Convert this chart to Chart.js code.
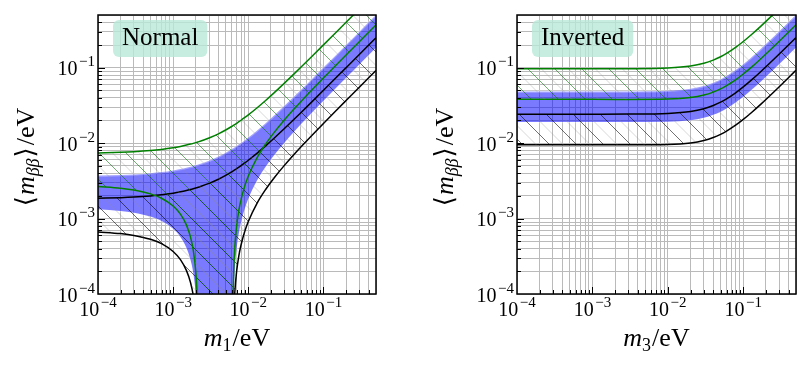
<!DOCTYPE html>
<html lang="en">
<head>
<meta charset="UTF-8">
<title>Effective Majorana mass - normal / inverted</title>
<script src="https://cdn.jsdelivr.net/npm/chart.js@4"></script>
<style>
  body { margin: 0; background: #fff; }
  #wrap { position: relative; width: 811px; height: 368px; }
  canvas { position: absolute; top: 0; }
  #left { left: 0; }
  #right { left: 405px; }
</style>
</head>
<body>
<div id="wrap">
  <canvas id="left" width="405" height="368"></canvas>
  <canvas id="right" width="406" height="368"></canvas>
</div>
<script>
// ---- axes ----
var tickExps = [-4, -3, -2, -1];
var axisMin = 1e-4, axisMax = 0.5;

// ---- normal ordering, x = m1 (eV) ----
var normalX = [1e-4, 2e-4, 3e-4, 5e-4, 7e-4, 1e-3, 1.25e-3, 1.5e-3, 1.7e-3, 1.85e-3,
  2e-3, 2.05e-3, 2.1e-3, 2.13e-3, 2.15e-3, 2.16e-3, 3e-3, 4e-3, 5e-3, 6e-3,
  6.19e-3, 6.25e-3, 6.3e-3, 6.4e-3, 6.6e-3, 7e-3, 7.5e-3, 8e-3, 9e-3, 1e-2,
  1.3e-2, 1.7e-2, 2.2e-2, 3e-2, 4e-2, 5e-2, 7e-2, 0.1, 0.15, 0.2, 0.3, 0.5];
var normalBlueHi = [0.003714, 0.003783, 0.003852, 0.003992, 0.004133, 0.004347, 0.004527, 0.004710, 0.004858, 0.004970,
  0.005082, 0.005120, 0.005157, 0.005180, 0.005195, 0.005203, 0.005849, 0.006645, 0.007468, 0.008312,
  0.008475, 0.008526, 0.008569, 0.008656, 0.008828, 0.009176, 0.009614, 0.010056, 0.010950, 0.011856,
  0.014627, 0.018406, 0.023209, 0.030991, 0.040808, 0.050682, 0.070514, 0.10037, 0.15026, 0.20019, 0.30013, 0.50008];
var normalBlueLo = [0.0013325, 0.0012645, 0.0011969, 0.0010627, 0.0009299, 0.0007331, 0.0005714, 0.0004118, 0.0002855, 0.0001916,
  0.0000985, 0.0000675, 0.0000367, 0.0000183, 0.0000060, 1e-7, 1e-7, 1e-7, 1e-7, 1e-7,
  1e-7, 0.0000276, 0.0000531, 0.0001036, 0.0002048, 0.0004044, 0.0006506, 0.0008929, 0.0013674, 0.001830,
  0.003165, 0.004860, 0.006901, 0.010069, 0.013938, 0.017751, 0.025290, 0.036491, 0.055043, 0.073532, 0.11047, 0.18424];
var normalBlackHi = [0.001857, 0.001892, 0.001926, 0.001996, 0.002067, 0.002174, 0.002264, 0.002355, 0.002429, 0.002485,
  0.002541, 0.002560, 0.002579, 0.002590, 0.002598, 0.002602, 0.002925, 0.003323, 0.003734, 0.004156,
  0.004238, 0.004263, 0.004285, 0.004328, 0.004414, 0.004588, 0.004807, 0.005028, 0.005475, 0.005928,
  0.007314, 0.009203, 0.011605, 0.015496, 0.020404, 0.025341, 0.035257, 0.05019, 0.07513, 0.10010, 0.15007, 0.25004];
var normalBlackLo = [0.0006663, 0.0006323, 0.0005985, 0.0005314, 0.0004650, 0.0003666, 0.0002857, 0.0002059, 0.0001428, 0.0000958,
  0.00004925, 0.00003375, 0.00001835, 0.00000915, 0.0000030, 1e-7, 1e-7, 1e-7, 1e-7, 1e-7,
  1e-7, 0.0000138, 0.00002655, 0.0000518, 0.0001024, 0.0002022, 0.0003253, 0.0004465, 0.0006837, 0.0009151,
  0.0015825, 0.0024301, 0.0034507, 0.0050345, 0.006969, 0.008876, 0.012645, 0.018246, 0.027522, 0.036766, 0.055235, 0.09212];
var normalGreenHi = [0.007427, 0.007565, 0.007704, 0.007983, 0.008265, 0.008693, 0.009055, 0.009420, 0.009716, 0.009939,
  0.010164, 0.010239, 0.010315, 0.010360, 0.010390, 0.010405, 0.011698, 0.013291, 0.014935, 0.016624,
  0.016950, 0.017053, 0.017139, 0.017311, 0.017656, 0.018352, 0.019228, 0.020112, 0.021900, 0.023712,
  0.029254, 0.036812, 0.046418, 0.061982, 0.081616, 0.10136, 0.14103, 0.20074, 0.30052, 0.40038, 0.60026, 1.00016];
var normalGreenLo = [0.002665, 0.002529, 0.002394, 0.002125, 0.001860, 0.001466, 0.001143, 0.000824, 0.000571, 0.000383,
  0.000197, 0.000135, 0.0000734, 0.0000366, 0.000012, 1e-7, 1e-7, 1e-7, 1e-7, 1e-7,
  1e-7, 0.0000552, 0.0001062, 0.0002072, 0.0004096, 0.0008088, 0.0013012, 0.0017858, 0.0027348, 0.003660,
  0.006330, 0.009720, 0.013803, 0.020138, 0.027876, 0.035502, 0.050580, 0.072982, 0.11009, 0.14706, 0.22094, 0.36848];

// ---- inverted ordering, x = m3 (eV) ----
var invertedX = [1e-4, 1e-3, 3e-3, 1e-2, 2e-2, 3e-2, 4e-2, 5e-2, 6e-2, 8e-2, 0.1, 0.13, 0.17, 0.22, 0.3, 0.4, 0.5];
var invertedBlueHi = [0.048372, 0.048402, 0.048526, 0.049571, 0.052620, 0.057239, 0.063096, 0.069887, 0.077372,
  0.093749, 0.11131, 0.13889, 0.17690, 0.22538, 0.30397, 0.40298, 0.50239];
var invertedBlueLo = [0.019040, 0.019024, 0.019012, 0.019215, 0.020136, 0.021693, 0.023746, 0.026171, 0.028872,
  0.034829, 0.041253, 0.051374, 0.065343, 0.083185, 0.11213, 0.14862, 0.18525];
var invertedBlackHi = [0.024186, 0.024201, 0.024263, 0.024786, 0.026310, 0.028620, 0.031548, 0.034944, 0.038686,
  0.046875, 0.055655, 0.069445, 0.08845, 0.11269, 0.15199, 0.20149, 0.25120];
var invertedBlackLo = [0.009520, 0.009512, 0.009506, 0.009608, 0.010068, 0.010847, 0.011873, 0.013086, 0.014436,
  0.017415, 0.020627, 0.025687, 0.032672, 0.041593, 0.056065, 0.07431, 0.092625];
var invertedGreenHi = [0.096744, 0.096804, 0.097052, 0.099142, 0.10524, 0.11448, 0.12619, 0.13977, 0.15474,
  0.18750, 0.22262, 0.27778, 0.35380, 0.45076, 0.60794, 0.80596, 1.00478];
var invertedGreenLo = [0.038080, 0.038048, 0.038024, 0.038430, 0.040272, 0.043386, 0.047492, 0.052342, 0.057744,
  0.069658, 0.082506, 0.10275, 0.13069, 0.16637, 0.22426, 0.29724, 0.37050];

var serif = '"Liberation Serif", "DejaVu Serif", serif';

// grid at 1..9 x 10^n
var gridVals = [];
for (var e = -4; e <= -1; e++) {
    for (var k = 1; k <= 9; k++) {
        var v = k * Math.pow(10, e);
        if (v <= axisMax * 1.0001) gridVals.push(v);
    }
}

function isMajor(v) {
    var l = Math.log10(v);
    return Math.abs(l - Math.round(l)) < 1e-6;
}

// "\\" hatch: a dark line every 27px, a faint grey one halfway
function hatch(dark) {
    var n = 27;
    var c = document.createElement('canvas');
    c.width = n; c.height = n;
    var g = c.getContext('2d');
    g.lineWidth = 0.7;
    g.strokeStyle = 'rgba(140,140,140,0.5)';
    [-n / 2, n / 2].forEach(function (o) {
        g.beginPath(); g.moveTo(o, 0); g.lineTo(o + n, n); g.stroke();
    });
    g.strokeStyle = dark;
    [-n, 0, n].forEach(function (o) {
        g.beginPath(); g.moveTo(o, 0); g.lineTo(o + n, n); g.stroke();
    });
    return g.createPattern(c, 'repeat');
}

var greenHatch = hatch('rgba(0,110,0,0.8)');
var blackHatch = hatch('rgba(0,0,0,0.8)');

function drawRuns(ctx, runs, x, y, align) {
    var w = 0;
    runs.forEach(function (r) {
        ctx.font = r.font;
        r.w = ctx.measureText(r.text).width;
        w += r.w + (r.gap || 0);
    });
    var cx = align === 'center' ? x - w / 2 : (align === 'right' ? x - w : x);
    runs.forEach(function (r) {
        ctx.font = r.font;
        ctx.fillText(r.text, cx, y + (r.dy || 0));
        cx += r.w + (r.gap || 0);
    });
}

function powRuns(e) {
    return [
        { text: '10', font: '20px ' + serif, gap: 1.5 },
        { text: '\u2212' + Math.abs(e), font: '15px ' + serif, dy: -9 }
    ];
}

function roundBox(ctx, x, y, w, h, r) {
    ctx.beginPath();
    ctx.moveTo(x + r, y);
    ctx.lineTo(x + w - r, y);
    ctx.arcTo(x + w, y, x + w, y + r, r);
    ctx.lineTo(x + w, y + h - r);
    ctx.arcTo(x + w, y + h, x + w - r, y + h, r);
    ctx.lineTo(x + r, y + h);
    ctx.arcTo(x, y + h, x, y + h - r, r);
    ctx.lineTo(x, y + r);
    ctx.arcTo(x, y, x + r, y, r);
    ctx.closePath();
}

function decorations(opt) {
    return {
        id: 'decor',
        afterDatasetsDraw: function (chart) {
            var ctx = chart.ctx, a = chart.chartArea;
            var sx = chart.scales.x, sy = chart.scales.y;
            ctx.save();
            ctx.textAlign = 'left';
            ctx.textBaseline = 'alphabetic';

            // label box
            ctx.font = '25px ' + serif;
            var tw = ctx.measureText(opt.label).width;
            var bx = a.left + 15, by = 20;
            roundBox(ctx, bx, by, tw + 18, 37, 6);
            ctx.fillStyle = 'rgba(185,232,218,0.8)';
            ctx.fill();
            ctx.fillStyle = '#000';
            ctx.fillText(opt.label, bx + 9, 45);

            // inward ticks on left and bottom
            ctx.strokeStyle = '#000';
            ctx.lineWidth = 1;
            gridVals.forEach(function (v) {
                var len = isMajor(v) ? 7 : 4;
                var px = Math.round(sx.getPixelForValue(v)) + 0.5;
                if (px > a.left + 1 && px < a.right - 1) {
                    ctx.beginPath(); ctx.moveTo(px, a.bottom); ctx.lineTo(px, a.bottom - len); ctx.stroke();
                }
                var py = Math.round(sy.getPixelForValue(v)) + 0.5;
                if (py > a.top + 1 && py < a.bottom - 1) {
                    ctx.beginPath(); ctx.moveTo(a.left, py); ctx.lineTo(a.left + len, py); ctx.stroke();
                }
            });

            // frame
            ctx.lineWidth = 1.5;
            ctx.strokeRect(a.left, a.top, a.right - a.left, a.bottom - a.top);

            // tick labels
            ctx.fillStyle = '#000';
            tickExps.forEach(function (e) {
                var v = Math.pow(10, e);
                drawRuns(ctx, powRuns(e), sx.getPixelForValue(v), a.bottom + 22, 'center');
                drawRuns(ctx, powRuns(e), a.left - 3, sy.getPixelForValue(v) + 7.5, 'right');
            });

            // x title
            drawRuns(ctx, [
                { text: 'm', font: 'italic 26px ' + serif },
                { text: opt.sub, font: '18px ' + serif, dy: 5, gap: 1 },
                { text: '/eV', font: '26px ' + serif }
            ], (a.left + a.right) / 2, 346, 'center');

            // y title
            ctx.translate(a.left - 64, 157);
            ctx.rotate(-Math.PI / 2);
            drawRuns(ctx, [
                { text: '\u27E8', font: '26px ' + serif, gap: 1 },
                { text: 'm', font: 'italic 26px ' + serif },
                { text: '\u03B2\u03B2', font: 'italic 18px ' + serif, dy: 5, gap: 1 },
                { text: '\u27E9', font: '26px ' + serif, gap: 2 },
                { text: '/eV', font: '26px ' + serif }
            ], 0, 0, 'center');
            ctx.restore();
        }
    };
}

function buildChart(canvasId, xs, s, opt) {
    function ds(ys, color, width, fill, bg, order) {
        return {
            data: xs.map(function (x, i) { return { x: x, y: ys[i] }; }),
            borderColor: color,
            borderWidth: width,
            fill: fill,
            backgroundColor: bg,
            pointRadius: 0,
            cubicInterpolationMode: 'monotone',
            order: order
        };
    }
    function setTicks(scale) {
        scale.ticks = gridVals.map(function (v) { return { value: v }; });
    }
    var grid = { color: '#bababa', lineWidth: 1, drawTicks: false };

    return new Chart(document.getElementById(canvasId), {
        type: 'line',
        data: {
            datasets: [
                ds(s.greenHi, '#008000', 1.5, '+1', greenHatch, 1),
                ds(s.greenLo, '#008000', 1.5, false, 'transparent', 1),
                ds(s.blackHi, '#000000', 1.5, '+1', blackHatch, 1),
                ds(s.blackLo, '#000000', 1.5, false, 'transparent', 1),
                ds(s.blueHi, 'rgba(255,255,255,0.3)', 2.5, '+1', 'rgba(0,0,255,0.52)', 2),
                ds(s.blueLo, 'rgba(255,255,255,0.3)', 2.5, false, 'transparent', 2)
            ]
        },
        options: {
            responsive: false,
            animation: false,
            events: [],
            layout: { padding: { left: 0, right: opt.padRight, top: 15, bottom: 0 } },
            plugins: { legend: { display: false }, tooltip: { enabled: false } },
            scales: {
                x: {
                    type: 'logarithmic', min: axisMin, max: axisMax,
                    afterBuildTicks: setTicks,
                    afterFit: function (sc) { sc.height = 74; },
                    ticks: { display: false },
                    grid: grid,
                    border: { display: false }
                },
                y: {
                    type: 'logarithmic', min: axisMin, max: axisMax,
                    afterBuildTicks: setTicks,
                    afterFit: function (sc) { sc.width = opt.yWidth; },
                    ticks: { display: false },
                    grid: grid,
                    border: { display: false }
                }
            }
        },
        plugins: [decorations(opt)]
    });
}

buildChart('left', normalX, {
    greenHi: normalGreenHi, greenLo: normalGreenLo,
    blackHi: normalBlackHi, blackLo: normalBlackLo,
    blueHi: normalBlueHi, blueLo: normalBlueLo
}, { label: 'Normal', sub: '1', padRight: 29, yWidth: 98 });

buildChart('right', invertedX, {
    greenHi: invertedGreenHi, greenLo: invertedGreenLo,
    blackHi: invertedBlackHi, blackLo: invertedBlackLo,
    blueHi: invertedBlueHi, blueLo: invertedBlueLo
}, { label: 'Inverted', sub: '3', padRight: 15, yWidth: 112 });
</script>
</body>
</html>
